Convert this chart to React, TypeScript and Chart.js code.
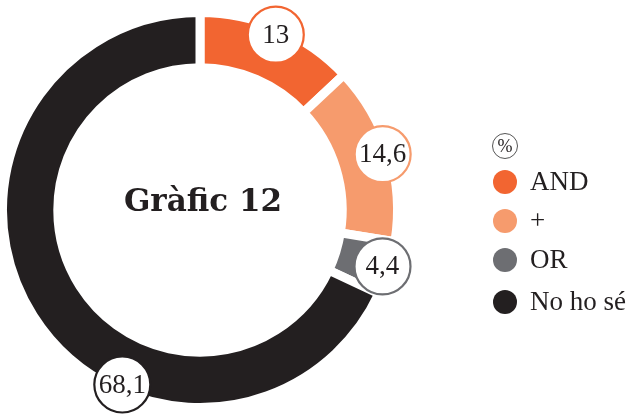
import React, { useEffect, useRef } from "react";
import { Chart, registerables } from "chart.js";

Chart.register(...registerables);

const categories = ["AND", "+", "OR", "No ho sé"];
const values = [13, 14.6, 4.4, 68.1];
const colors = ["#F26531", "#F69B6D", "#6D6E72", "#231F20"];
const title = "Gràfic 12";
const unitLabel = "%";

const fmt = (v: number) => String(v).replace(".", ",");

const overlayPlugin = {
  id: "overlay",
  afterDatasetsDraw(chart: any, _args: any, opts: any) {
    const ctx = chart.ctx;
    const meta = chart.getDatasetMeta(0);
    const ds = chart.data.datasets[0];
    const bw = ds.borderWidth || 0;
    meta.data.forEach((arc: any, i: number) => {
      const p = arc.getProps(["x", "y", "startAngle", "endAngle", "outerRadius"], true);
      let ang = (p.startAngle + p.endAngle) / 2;
      if (opts.angleOverrides && opts.angleOverrides[i] !== undefined) {
        ang = (opts.angleOverrides[i] - 90) * Math.PI / 180;
      }
      const r = p.outerRadius - bw / 2 - 2;
      const cx = p.x + Math.cos(ang) * r;
      const cy = p.y + Math.sin(ang) * r;
      ctx.save();
      ctx.beginPath();
      ctx.arc(cx, cy, 28, 0, Math.PI * 2);
      ctx.fillStyle = "#ffffff";
      ctx.fill();
      ctx.lineWidth = 2.2;
      ctx.strokeStyle = ds.backgroundColor[i];
      ctx.stroke();
      ctx.fillStyle = "#231F20";
      ctx.font = "27px 'Liberation Serif'";
      ctx.textAlign = "center";
      ctx.textBaseline = "middle";
      ctx.fillText(fmt(ds.data[i]), cx, cy + 1);
      ctx.restore();
    });
  },
  afterDraw(chart: any) {
    const ctx = chart.ctx;
    const meta = chart.getDatasetMeta(0);
    const arc0 = meta.data[0];
    ctx.save();
    // title
    ctx.fillStyle = "#231F20";
    ctx.font = "bold 31px 'DejaVu Serif'";
    ctx.textAlign = "center";
    ctx.textBaseline = "middle";
    ctx.fillText(title, arc0.x + 3, arc0.y - 7);
    // legend
    const lx = 505;
    ctx.beginPath();
    ctx.arc(lx, 146, 12.5, 0, Math.PI * 2);
    ctx.lineWidth = 1;
    ctx.strokeStyle = "#555555";
    ctx.stroke();
    ctx.fillStyle = "#231F20";
    ctx.font = "18px 'Liberation Serif'";
    ctx.fillText(unitLabel, lx, 147);
    const ys = [182, 221, 260, 302];
    chart.data.labels.forEach((lab: string, i: number) => {
      ctx.beginPath();
      ctx.arc(lx, ys[i], 12, 0, Math.PI * 2);
      ctx.fillStyle = chart.data.datasets[0].backgroundColor[i];
      ctx.fill();
      ctx.fillStyle = "#231F20";
      ctx.font = "27px 'Liberation Serif'";
      ctx.textAlign = "left";
      ctx.textBaseline = "middle";
      ctx.fillText(lab, 530, ys[i] + 1);
    });
    ctx.restore();
  },
};

export default function App() {
  const ref = useRef<HTMLCanvasElement | null>(null);
  useEffect(() => {
    if (!ref.current) return;
    const chart = new Chart(ref.current, {
      type: "doughnut",
      data: {
        labels: categories,
        datasets: [
          {
            data: values,
            backgroundColor: colors,
            borderColor: "#ffffff",
            borderWidth: 9,
            borderAlign: "center",
            hoverOffset: 0,
          } as any,
        ],
      },
      options: {
        responsive: false,
        animation: false,
        radius: 197.5,
        cutout: "72%",
        layout: { padding: { left: 7, right: 237, top: 17, bottom: 12 } },
        plugins: {
          legend: { display: false },
          tooltip: { enabled: false },
          overlay: { angleOverrides: { 3: 204 } },
        } as any,
      } as any,
      plugins: [overlayPlugin],
    });
    return () => chart.destroy();
  }, []);
  return (
    <div style={{ position: "fixed", left: 0, top: 0, width: 630, height: 415, background: "#fff" }}>
      <canvas ref={ref} width={630} height={415} style={{ display: "block" }} />
    </div>
  );
}
